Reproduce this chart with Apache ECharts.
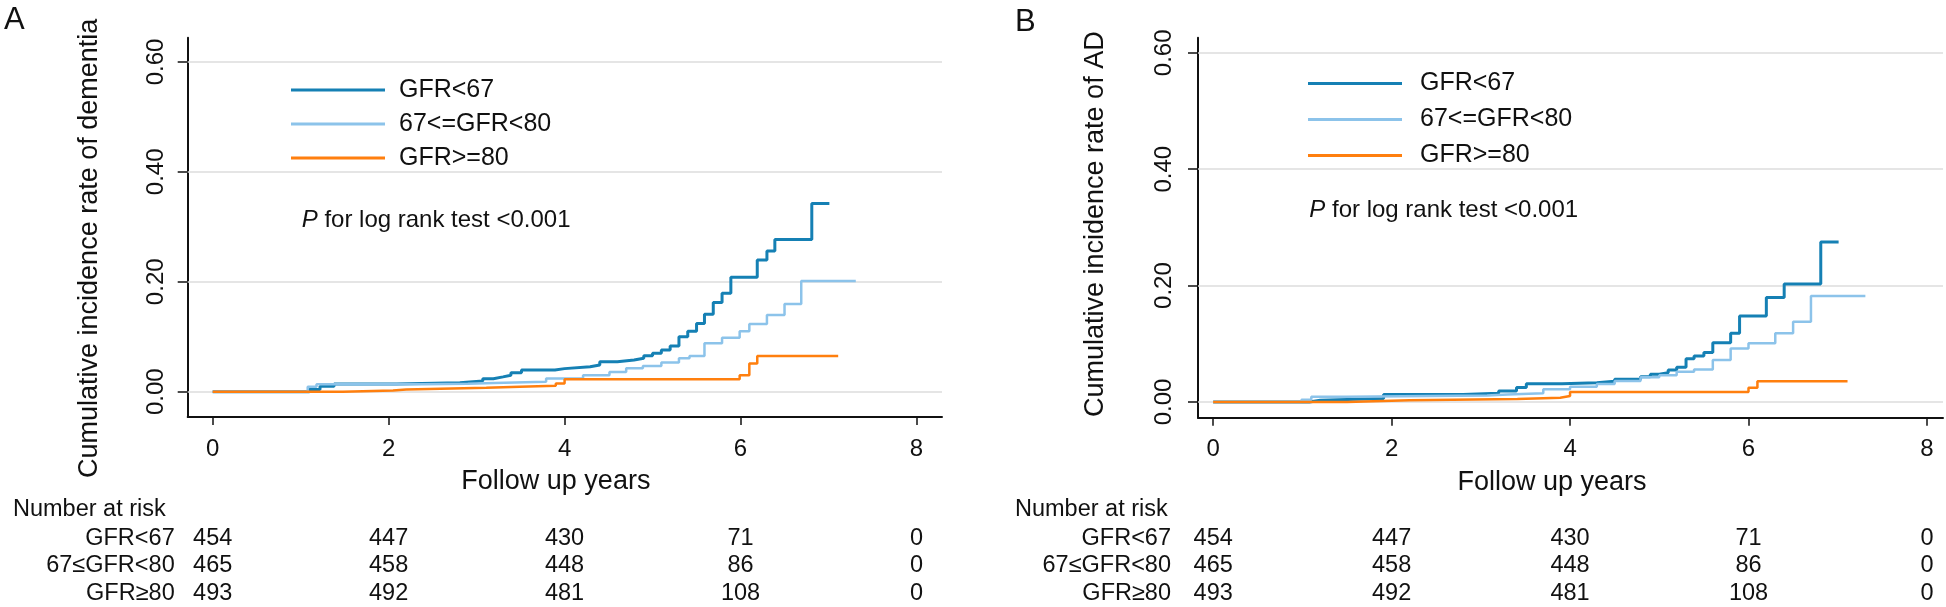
<!DOCTYPE html>
<html><head><meta charset="utf-8">
<script src="https://cdn.jsdelivr.net/npm/echarts@6/dist/echarts.min.js"></script>
<style>html,body{margin:0;padding:0;background:#fff}#c{width:1946px;height:607px}</style>
</head><body><div id="c"></div>
<script>
// ---------- data ----------
const groupNames = ['GFR<67', '67<=GFR<80', 'GFR>=80'];
const riskRowNames = ['GFR<67', '67≤GFR<80', 'GFR≥80'];
const xTicks = [0, 2, 4, 6, 8];
const yTicks = [0, 0.2, 0.4, 0.6];
const riskTimes = [0, 2, 4, 6, 8];
const riskLt67 = [454, 447, 430, 71, 0];
const riskMid = [465, 458, 448, 86, 0];
const riskGe80 = [493, 492, 481, 108, 0];

// Panel A: cumulative incidence of dementia
const demLt67T = [0, 1.10, 1.22, 1.38, 2.09, 2.81, 3.07, 3.19, 3.30, 3.39, 3.51, 3.89, 4.00, 4.29, 4.40, 4.60, 4.79, 4.90, 5.00, 5.10, 5.20, 5.30, 5.40, 5.50, 5.59, 5.69, 5.79, 5.89, 6.19, 6.30, 6.39, 6.81, 7.01];
const demLt67V = [0, 0.004, 0.010, 0.014, 0.0165, 0.0195, 0.0235, 0.027, 0.030, 0.0345, 0.0395, 0.042, 0.0455, 0.0485, 0.0545, 0.0576, 0.0607, 0.0655, 0.070, 0.0758, 0.083, 0.100, 0.110, 0.124, 0.141, 0.1625, 0.179, 0.208, 0.2395, 0.256, 0.277, 0.3425, 0.3425];
const demMidT = [0, 1.08, 1.18, 2.40, 2.90, 3.20, 3.79, 4.21, 4.51, 4.70, 4.89, 5.10, 5.30, 5.42, 5.59, 5.79, 5.99, 6.10, 6.30, 6.50, 6.69, 7.31];
const demMidV = [0, 0.009, 0.0135, 0.0145, 0.016, 0.018, 0.024, 0.030, 0.036, 0.0425, 0.047, 0.053, 0.061, 0.065, 0.088, 0.098, 0.110, 0.123, 0.1395, 0.1595, 0.2013, 0.2013];
const demGe80T = [0, 1.48, 2.05, 2.20, 3.11, 3.49, 3.90, 4.00, 5.99, 6.10, 6.19, 7.11];
const demGe80V = [0, 0.002, 0.004, 0.007, 0.009, 0.011, 0.015, 0.0225, 0.030, 0.0515, 0.065, 0.065];

// Panel B: cumulative incidence of AD
const adLt67T = [0, 1.08, 1.20, 1.91, 2.80, 3.20, 3.40, 3.51, 3.91, 4.30, 4.50, 4.79, 4.90, 5.00, 5.10, 5.195, 5.30, 5.39, 5.50, 5.60, 5.80, 5.90, 6.20, 6.40, 6.81, 7.01];
const adLt67V = [0, 0.003, 0.006, 0.013, 0.015, 0.019, 0.025, 0.0315, 0.033, 0.0355, 0.039, 0.0435, 0.0475, 0.0503, 0.055, 0.0595, 0.0744, 0.079, 0.085, 0.102, 0.118, 0.1476, 0.1797, 0.2026, 0.275, 0.275];
const adMidT = [0, 0.99, 1.10, 1.50, 3.07, 3.30, 3.70, 4.00, 4.30, 4.50, 4.79, 5.00, 5.195, 5.39, 5.60, 5.80, 6.00, 6.30, 6.50, 6.70, 7.31];
const adMidV = [0, 0.004, 0.009, 0.011, 0.013, 0.015, 0.0218, 0.026, 0.031, 0.036, 0.0424, 0.046, 0.052, 0.056, 0.072, 0.092, 0.101, 0.118, 0.138, 0.182, 0.182];
const adGe80T = [0, 1.50, 2.20, 3.41, 3.89, 4.00, 6.00, 6.10, 7.11];
const adGe80V = [0, 0.003, 0.005, 0.0074, 0.0103, 0.0172, 0.0246, 0.0355, 0.0355];

// ---------- style ----------
const FONT = 'Liberation Sans, Arial, sans-serif';
const INK = '#111';
const colors = ['#1580b4', '#8cc3ea', '#ff7f0e'];
const widths = [3, 2.5, 2.5];

const pair = (t, v) => t.map((x, i) => [x, v[i]]);

function plotX(gridIdx, min, max, namePad) {
  return {
    gridIndex: gridIdx, type: 'value', min: min, max: max,
    name: 'Follow up years', nameLocation: 'middle', nameGap: 51,
    nameTextStyle: { fontSize: 27, fontFamily: FONT, color: INK, padding: namePad },
    axisLine: { show: true, onZero: false, lineStyle: { color: INK, width: 2 } },
    axisTick: { show: true, customValues: xTicks, length: 8, lineStyle: { color: INK, width: 1.5 } },
    axisLabel: { customValues: xTicks, fontSize: 24, fontFamily: FONT, color: INK, margin: 20 },
    splitLine: { show: false }
  };
}
function plotY(gridIdx, min, max, title, gap, margin, pad) {
  return {
    gridIndex: gridIdx, type: 'value', min: min, max: max,
    name: title, nameLocation: 'middle', nameGap: gap,
    nameTextStyle: { fontSize: 27, fontFamily: FONT, color: INK, padding: pad },
    axisLine: { show: true, onZero: false, lineStyle: { color: INK, width: 2 } },
    axisTick: { show: true, customValues: yTicks, length: 10, lineStyle: { color: INK, width: 1.5 } },
    axisLabel: { customValues: yTicks, rotate: 90, fontSize: 24, fontFamily: FONT, color: INK, margin: margin,
      formatter: v => v.toFixed(2) },
    splitLine: { show: false }
  };
}
function riskX(gridIdx, min, max) {
  return { gridIndex: gridIdx, type: 'value', min: min, max: max, show: false };
}
function riskY(gridIdx, margin) {
  return {
    gridIndex: gridIdx, type: 'category', data: riskRowNames, inverse: true,
    axisLine: { show: false }, axisTick: { show: false }, splitLine: { show: false },
    axisLabel: { interval: 0, fontSize: 23.5, fontFamily: FONT, color: INK, margin: margin }
  };
}
function curveSeries(name, data, i, axisIdx, withGrid) {
  const s = {
    name: name, type: 'line', step: 'end', data: data, showSymbol: false, symbol: 'none',
    xAxisIndex: axisIdx, yAxisIndex: axisIdx,
    lineStyle: { color: colors[i], width: widths[i] }, itemStyle: { color: colors[i] },
    z: 3 + i
  };
  if (withGrid) {
    s.markLine = {
      silent: true, symbol: ['none', 'none'], z: 1, label: { show: false },
      lineStyle: { color: '#dcdcdc', width: 1.5, type: 'solid' },
      emphasis: { disabled: true },
      data: yTicks.map(v => ({ yAxis: v }))
    };
  }
  return s;
}
function riskSeries(axisIdx) {
  const rows = [riskLt67, riskMid, riskGe80];
  const data = [];
  rows.forEach((r, k) => riskTimes.forEach((t, j) => data.push([t, riskRowNames[k], r[j]])));
  return {
    type: 'scatter', xAxisIndex: axisIdx, yAxisIndex: axisIdx, data: data,
    symbolSize: 1, itemStyle: { color: '#ffffff', opacity: 1 }, silent: true,
    label: { show: true, position: 'inside', formatter: p => String(p.value[2]),
      fontSize: 23.5, fontFamily: FONT, color: INK, textBorderWidth: 0, opacity: 1 }
  };
}
function legend(left, top, gap, textPad) {
  return {
    data: groupNames, left: left, top: top, orient: 'vertical', padding: 0,
    icon: 'rect', itemWidth: 94, itemHeight: 3, itemGap: gap, selectedMode: false,
    textStyle: { fontSize: 25, fontFamily: FONT, color: INK, padding: [0, 0, 0, textPad] }
  };
}
function txt(x, y, text, size, align, extra) {
  return { type: 'text', x: x, y: y, silent: true,
    style: Object.assign({ text: text, fontSize: size, fontFamily: FONT, fill: INK, align: align, verticalAlign: 'middle' }, extra || {}) };
}

const A_XMIN = -0.284, A_XMAX = 8.29, B_XMIN = -0.17, B_XMAX = 8.18;
const pRich = { rich: { i: { fontStyle: 'italic', fontSize: 24, fontFamily: FONT, fill: INK } } };

const option = {
  backgroundColor: '#fff',
  animation: false,
  grid: [
    { left: 187.7, top: 37.7, width: 754.3, height: 379.3 },
    { left: 1198, top: 37.7, width: 745, height: 380 },
    { left: 187.7, top: 524.5, width: 754.3, height: 82.5 },
    { left: 1198, top: 524.5, width: 745, height: 82.5 }
  ],
  xAxis: [
    plotX(0, A_XMIN, A_XMAX, [0, 18, 0, 0]),
    plotX(1, B_XMIN, B_XMAX, [0, 37, 0, 0]),
    riskX(2, A_XMIN, A_XMAX), riskX(3, B_XMIN, B_XMAX)
  ],
  yAxis: [
    plotY(0, -0.046, 0.644, 'Cumulative incidence rate of dementia', 85, 19, [0, 42, 0, 0]),
    plotY(1, -0.027, 0.626, 'Cumulative incidence rate of AD', 89, 22, [0, 0, 0, 7]),
    riskY(2, 13), riskY(3, 27)
  ],
  legend: [legend(291, 77.5, 9, 9), legend(1308, 71, 11, 13)],
  series: [
    curveSeries(groupNames[0], pair(demLt67T, demLt67V), 0, 0, true),
    curveSeries(groupNames[1], pair(demMidT, demMidV), 1, 0, false),
    curveSeries(groupNames[2], pair(demGe80T, demGe80V), 2, 0, false),
    curveSeries(groupNames[0], pair(adLt67T, adLt67V), 0, 1, true),
    curveSeries(groupNames[1], pair(adMidT, adMidV), 1, 1, false),
    curveSeries(groupNames[2], pair(adGe80T, adGe80V), 2, 1, false),
    riskSeries(2), riskSeries(3)
  ],
  graphic: [
    txt(4, 20, 'A', 31, 'left'),
    txt(1015, 22, 'B', 31, 'left'),
    txt(13, 510, 'Number at risk', 23.5, 'left'),
    txt(1015, 510, 'Number at risk', 23.5, 'left'),
    txt(301.7, 220, '{i|P} for log rank test <0.001', 24, 'left', pRich),
    txt(1309.3, 210, '{i|P} for log rank test <0.001', 24, 'left', pRich)
  ]
};
const chart = echarts.init(document.getElementById('c'), null, { renderer: 'canvas', width: 1946, height: 607 });
chart.setOption(option);
</script></body></html>
